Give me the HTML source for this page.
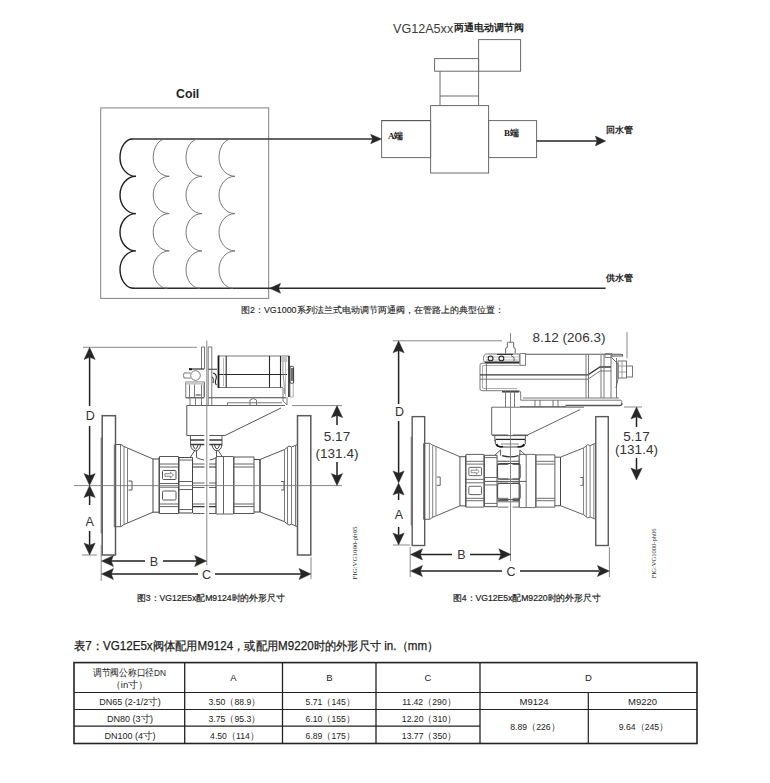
<!DOCTYPE html>
<html><head><meta charset="utf-8">
<style>
html,body{margin:0;padding:0;background:#fff;}
body{width:770px;height:783px;position:relative;overflow:hidden;font-family:"Liberation Sans",sans-serif;color:#222;}
.t{position:absolute;white-space:nowrap;line-height:1;}
.serif{font-family:"Liberation Serif",serif;}
svg{position:absolute;left:0;top:0;}
</style></head><body>
<svg width="770" height="783" viewBox="0 0 770 783">

 <!-- ===== TOP DIAGRAM ===== -->
 <rect x="100.7" y="107.9" width="168" height="190.5" fill="none" stroke="#808080" stroke-width="1"/>
 <g fill="none">
  <path d="M132,139 H376" stroke="#303030" stroke-width="1.3"/>
  <path d="M133.5,288.3 H605.6" stroke="#2e2e2e" stroke-width="1.4"/>
<path d="M132.50,139.00 C125.60,139.00 120.00,147.35 120.00,157.65 C120.00,167.95 127.16,176.30 136.00,176.30 C127.16,176.30 120.00,184.65 120.00,194.95 C120.00,205.25 127.16,213.60 136.00,213.60 C127.16,213.60 120.00,221.95 120.00,232.25 C120.00,242.55 127.16,250.90 136.00,250.90 C127.16,250.90 120.00,259.27 120.00,269.60 C120.00,279.93 126.27,288.30 134.00,288.30" stroke="#1e1e1e" stroke-width="1.4"/>
<path d="M165.70,139.00 C158.80,139.00 153.20,147.35 153.20,157.65 C153.20,167.95 160.36,176.30 169.20,176.30 C160.36,176.30 153.20,184.65 153.20,194.95 C153.20,205.25 160.36,213.60 169.20,213.60 C160.36,213.60 153.20,221.95 153.20,232.25 C153.20,242.55 160.36,250.90 169.20,250.90 C160.36,250.90 153.20,259.27 153.20,269.60 C153.20,279.93 159.47,288.30 167.20,288.30" stroke="#707070" stroke-width="0.95"/>
<path d="M198.50,139.00 C191.60,139.00 186.00,147.35 186.00,157.65 C186.00,167.95 193.16,176.30 202.00,176.30 C193.16,176.30 186.00,184.65 186.00,194.95 C186.00,205.25 193.16,213.60 202.00,213.60 C193.16,213.60 186.00,221.95 186.00,232.25 C186.00,242.55 193.16,250.90 202.00,250.90 C193.16,250.90 186.00,259.27 186.00,269.60 C186.00,279.93 192.27,288.30 200.00,288.30" stroke="#707070" stroke-width="0.95"/>
<path d="M231.50,139.00 C224.60,139.00 219.00,147.35 219.00,157.65 C219.00,167.95 226.16,176.30 235.00,176.30 C226.16,176.30 219.00,184.65 219.00,194.95 C219.00,205.25 226.16,213.60 235.00,213.60 C226.16,213.60 219.00,221.95 219.00,232.25 C219.00,242.55 226.16,250.90 235.00,250.90 C226.16,250.90 219.00,259.27 219.00,269.60 C219.00,279.93 225.27,288.30 233.00,288.30" stroke="#707070" stroke-width="0.95"/>
 </g>
 <g fill="none" stroke="#6a6a6a" stroke-width="1">
  <rect x="478.6" y="39.6" width="42" height="31.6"/>
  <rect x="434.6" y="58.6" width="44" height="12.6"/>
  <path d="M440,71.2 V105.6 M478.6,71.2 V105.6 M440,96 H478.6"/>
  <rect x="430.6" y="105.6" width="58" height="67.4"/>
  <rect x="381.6" y="120.6" width="49" height="37"/>
  <rect x="488.6" y="120.6" width="48" height="37"/>
 </g>
 <path d="M381.6,120.6 H430.6" stroke="#555" stroke-width="1"/>
 <path d="M536.6,141 H597" stroke="#252525" stroke-width="1.5"/>
 <path d="M605.8,141.0 L595.3,136.1 L597.1,141.0 L595.3,145.9 Z" fill="#262626" stroke="#262626" stroke-width="0.4" stroke-linejoin="miter"/>
 <path d="M381.6,139.0 L370.6,134.2 L372.6,139.0 L370.6,143.8 Z" fill="#262626" stroke="#262626" stroke-width="0.4" stroke-linejoin="miter"/>
 <path d="M269.6,288.3 L280.6,283.3 L278.6,288.3 L280.6,293.3 Z" fill="#262626" stroke="#262626" stroke-width="0.4" stroke-linejoin="miter"/>

 <!-- ===== VALVES ===== -->
 <g id="body" fill="none" stroke="#626262" stroke-width="1">
  <!-- left flange -->
  <rect x="102.2" y="415.7" width="13.3" height="139.3" stroke-width="1.5" stroke="#5a5a5a"/>
  <path d="M101.2,437.5 V533.5 M114.3,444.5 V527" />
  <!-- left hub / cone -->
  <path d="M115.5,444.5 H121 L123,446 L127.5,448 L153,459 M115.5,526.7 H121 L123,525 L127.5,523 L153,512.2" stroke="#555"/>
  <path d="M120.5,445 V526.3 M124,447 V524.4 M127.5,448 V523" stroke="#7a7a7a"/>
  <path d="M128.5,481 H132 V490 H128.5" stroke="#555"/>
  <!-- collar -->
  <path d="M153,459 V512.2 M159,457.5 V513.5 M153,459 H159 M153,512.2 H159" stroke="#444"/>
  <!-- left nut -->
  <path d="M159.5,456.5 H178.5 V513.5 H159.5 Z" stroke="#555"/>
  <path d="M159.5,464 H178.5 M159.5,467 H178.5 M159.5,483.5 H178.5 M159.5,487.2 H178.5 M159.5,504 H178.5 M159.5,506.6 H178.5"/>
  <rect x="162.5" y="470.5" width="13.5" height="9" rx="1" stroke="#555"/>
  <path d="M165,473.7 H170.5 V472.2 L173.5,475 L170.5,477.8 V476.3 H165 Z" stroke="#555" stroke-width="0.7"/>
  <rect x="162.5" y="491" width="13.5" height="9" rx="1.2" stroke="#555"/>
  <!-- segment 2 -->
  <path d="M179,457.5 V513 M192.5,457.5 V513 M179,457.5 H192.5 M179,513 H192.5" stroke="#444"/>
  <path d="M179,460 H192.5 M179,481.5 H192.5 M179,489.5 H192.5 M179,509.5 H192.5"/>
  <!-- segment 3 (left of center) -->
  <path d="M193,464 H204.5 M193,483 H204.5 M193,487.5 H204.5 M193,504 H204.5"/>
  <path d="M193,467 H204.5 M193,506.6 H204.5" stroke="#333" stroke-width="1.2"/>
  <path d="M193,513.5 H204.5"/>
  <!-- right of center -->
  <path d="M209,464 H216 M209,483 H216 M209,487.5 H216 M209,504 H216 M209,513.5 H216"/>
  <path d="M209,467 H216 M209,506.6 H216" stroke="#333" stroke-width="1.2"/>
  <path d="M216,457.5 V513.5" stroke="#333" stroke-width="1.1"/>
  <path d="M223.5,456.5 V514 M233.5,456.5 V514 M216,456.5 H233.5 M216,514 H233.5"/>
  <!-- right nut -->
  <path d="M234,457 H254 V513.5 H234 Z" stroke="#555"/>
  <path d="M234,464 H254 M234,467 H254 M234,504 H254 M234,506.6 H254"/>
  <!-- right collar -->
  <path d="M254,459.5 H260 V512 H254 M260,459.5 V512" stroke="#444"/>
  <!-- right cone + hub -->
  <path d="M260,459.5 L284.5,449.5 L289,446 L291.5,447 L297.5,444.5 M260,512 L284.5,521.7 L289,525.2 L291.5,524.2 L297.5,526.7" stroke="#555"/>
  <path d="M284.5,449.5 V521.7 M287.5,447 V524.4 M291.5,447 V524.2 M295.5,445 V526.3" stroke="#7a7a7a"/>
  <path d="M281,481.5 H284 V490 H281"/>
  <!-- right flange -->
  <rect x="297.5" y="415.7" width="13.3" height="139.3" stroke-width="1.5" stroke="#5a5a5a"/>
  <!-- yoke -->
  <path d="M186.8,405.5 V435.5 H204.3 M209.3,435.5 H225 L281,408" stroke="#555"/>
  <path d="M186.8,405.5 H285"/>
 </g>

 <use href="#body" transform="translate(510.5,481.3) scale(0.94,0.925) translate(-206.8,-485.6)"/>
 <g id="fig3">
  <!-- actuator M9124 -->
  <g fill="none" stroke="#6a6a6a" stroke-width="0.9">
   <path d="M218.5,356 H289.5 M218.5,387.5 H283"/>
   <path d="M218.5,374.5 H287" stroke="#2a2a2a" stroke-width="1.2"/>
   <path d="M218.5,355.5 V388" stroke="#1a1a1a" stroke-width="1.8"/>
   <path d="M226.2,356 V387.5 M269.5,356 V387.5 M280.5,356 V387.5" stroke="#2a2a2a" stroke-width="1.1"/>
   <path d="M289,356 V397" stroke="#1a1a1a" stroke-width="1.6"/>
   <path d="M223.5,358 V386 M285.5,362 V396" stroke="#aaa" stroke-width="0.8"/>
   <rect x="290" y="366.3" width="3.6" height="17" rx="1.2" stroke="#333" stroke-width="1"/>
   <path d="M292,368 V381" stroke="#111" stroke-width="1.2"/>
   <path d="M290.2,383 V397 H293.2 V383" stroke="#999" stroke-width="0.8"/>
   <rect x="281.2" y="356.5" width="6" height="5.5" fill="#c4c4c4" stroke="none"/>
   <path d="M283,362 Q282.5,372 283.5,378 Q284.5,386 284.5,394" stroke="#888" stroke-width="0.9"/>
   <!-- plate -->
   <path d="M186,397.8 H204 M208.5,397.8 H286" stroke="#444" stroke-width="1.1"/>
   <path d="M227.5,405.5 V402.8 H282" />
   <path d="M250,405 V400 Q253.2,397 256.5,400 V405"/>
   <path d="M283,388 V401 L287,405 V397"/>
   <!-- left rods -->
   <path d="M201.5,347 V369 M204.5,347 V369 M201.5,347 H204.5"/>
   <path d="M208.2,347 V405 M211.8,347 V405 M208.2,347 H211.8"/>
   <path d="M201.5,382 V405 M204.5,382 V397"/>
   <!-- left knob -->
   <path d="M189,369 H204" stroke="#333" stroke-width="1.2"/>
   <circle cx="195.5" cy="375.5" r="4.8"/>
   <path d="M190.7,373 H184 Q183,375.5 184,378 H190.7"/>
   <rect x="185.8" y="382" width="18.2" height="15.8"/>
   <path d="M189.5,382 V397.8 M194.5,382 V397.8 M186,382.5 H204" />
   <path d="M190,397.8 V405.5 M195.5,397.8 V405.5"/>
   <!-- clip -->
   <path d="M208.4,369.3 H217" stroke="#555" stroke-width="1.2"/>
   <path d="M213,373 Q217.5,374.5 216,379 Q214.5,383 216.5,385 M212.5,377 Q214,379 213,383" stroke="#222" stroke-width="1.1"/>
   <rect x="186" y="382" width="18" height="2.6" fill="#c8c8c8" stroke="none"/>
   <path d="M195.7,395 H200.7" stroke="#333" stroke-width="1"/>
   <path d="M189,369.3 H192" stroke="#111" stroke-width="1.8"/>
  </g>
 </g>
 <g id="pack3" fill="none" stroke="#626262" stroke-width="1">
  <!-- bonnet / packing -->
  <path d="M190.5,435.5 V445 M222,435.5 V445" />
  <path d="M190.5,440 H204.3 M209.3,440 H222 M190.5,444.4 H204.3 M209.3,444.4 H222" stroke="#3a3a3a" stroke-width="1.5"/>
  <path d="M190.5,445 Q191.5,450.5 195.5,450.8 Q199.5,450.5 200.5,445 M193,445 Q194,449 195.5,449 Q197,449 198,445" stroke="#444" stroke-width="1"/>
  <path d="M212,445 Q213,450.5 217,450.8 Q221,450.5 222,445 M214.5,445 Q215.5,449 217,449 Q218.5,449 219.5,445" stroke="#444" stroke-width="1"/>
  <path d="M194.5,451 L190.5,457 M196.5,451 V457.5 M196.5,457.5 Q200,459.5 204,460 M218.5,451 L222.5,457 M216.5,451 V457.5 M216.5,457.5 Q213,459.5 209.5,460" stroke="#555"/>
 </g>
 <g id="fig4">
  <g fill="none" stroke="#6a6a6a" stroke-width="0.9">
   <!-- top stem -->
   <path d="M505.6,353.5 V349 Q505.6,347.5 507.3,347.5 V343 Q507.3,342.2 508.3,342.2 H512.7 Q513.7,342.2 513.7,343 V347.5 Q515.2,347.5 515.2,349 V353.5" stroke="#555"/>
   <!-- top rail -->
   <path d="M486.5,354 H519.3 V363 H486.5 Q483.5,363 483.5,358.5 Q483.5,354 486.5,354 Z"/>
   <path d="M485,362.3 H519" stroke="#1e1e1e" stroke-width="1.4"/>
   <path d="M497,354.4 H513" stroke="#333" stroke-width="1.1"/>
   <path d="M486,357 H518 M486,360 H518" stroke="#999" stroke-width="0.7"/>
   <circle cx="490.6" cy="358.4" r="2.4" stroke="#222" stroke-width="1.1"/>
   <circle cx="501.4" cy="358.4" r="2.4" stroke="#222" stroke-width="1.1"/>
   <path d="M511,355.5 Q515,357 514,361" stroke="#444"/>
   <rect x="520" y="353.6" width="5.6" height="11.7"/>
   <!-- main body -->
   <path d="M525.6,354.3 H621 Q623,354.3 622.5,356 H611" stroke="#555" stroke-width="1.1"/>
   <path d="M480,365 Q480,363.2 482,363.2 H519.5 M480,365 V389 Q480,390.7 482,390.7 H518.5 Q520.7,390.7 520.7,393 V400.2 H527"/>
   <path d="M482.5,365.5 V388.5 M482.5,365.5 H519.5 M482.5,388.5 H517" stroke="#999" stroke-width="0.8"/>
   <path d="M502,391.8 H519" stroke="#333" stroke-width="1.4"/>
   <path d="M486.4,363.5 V390.5"/>
   <path d="M480,374.9 H588 L600,367 H611" stroke="#3a3a3a" stroke-width="1.3"/>
   <path d="M480,379.2 H588 L600,371 H611"/>
   <path d="M586,355 V398 M588.5,355 V398 M601,355 V398 M604,355 V398 M611,355 V398 M616.5,358 V398"/>
   <path d="M523,398 H619 M527,400.2 H621 Q623,401 621,403"/>
   <path d="M520,406.5 H566"/>
   <path d="M565.5,405.5 H620 Q622,405.5 622,403" stroke="#555" stroke-width="1.3"/>
   <path d="M535,400 V406.5 M540,400 V406.5 M553,400 V406.5 M558,400 V406.5"/>
   <!-- right end -->
   <path d="M611,357 L618,364 V379 L616,388" stroke="#555"/>
   <rect x="618" y="361" width="8.5" height="17" stroke="#666"/>
   <path d="M618,366 H626.5 M618,372 H626.5 M622,361 V378" stroke="#888" stroke-width="0.8"/>
   <rect x="626.5" y="366" width="6" height="11" stroke="#666"/>
   <path d="M605,353.5 H612 V357.5 H605 Z" stroke="#777"/>
   <!-- stems below -->
   <path d="M505.5,391 V407 M514.5,391 V407"/>
  </g>
 </g>
 <g id="pack4" fill="none" stroke="#626262" stroke-width="1">
  <path d="M492.3,435.6 H528" stroke="#555"/>
  <path d="M494.8,435.6 V441 M525.4,435.6 V441"/>
  <path d="M495.5,439.4 H525" stroke="#2a2a2a" stroke-width="1.3"/>
  <path d="M495.3,440 V443.5 Q496,447 500,447 H521 Q525,447 525.3,443.5 V440" stroke="#444"/>
  <path d="M496.5,444 Q498,447.5 503,446.5 M524,444 Q522.5,447.5 517.5,446.5" stroke="#1a1a1a" stroke-width="1.6"/>
  <path d="M501,444 H519" stroke="#aaa" stroke-width="1.4"/>
  <path d="M500.6,449.9 L495,455.1 M500.6,449.9 V455.5 M519.9,449.9 L525.4,455.1 M519.9,449.9 V455.5" stroke="#555"/>
  <path d="M502,455.6 Q510.5,458 518.4,455.6" stroke="#333" stroke-width="1.3"/>
  <rect x="497.6" y="463.5" width="22.6" height="15.7" rx="2" stroke="#444"/>
  <rect x="497.6" y="483.4" width="22.6" height="16.2" rx="2" stroke="#444"/>
  <path d="M497.6,461.3 H520.2 M497.6,501.8 H520.2" stroke="#777"/>
  <path d="M484.5,481.4 H526" stroke="#555"/>
 </g>
<g fill="none" stroke="#7a7a7a" stroke-width="0.9">
   <path d="M83,347.3 H197"/>
   <path d="M206.8,340.5 V565"/>
   <path d="M74,485.6 H342"/>
   <path d="M82,555 H97"/>
   <path d="M101.2,545 V581 M311,557 V579"/>
   <path d="M292,405.6 H342"/>
   <path d="M393,340.8 H502"/>
   <path d="M510.5,333 V342.2 M510.5,391 V561"/>
   <path d="M393,545 H410"/>
   <path d="M410.2,547 V577 M609.4,547 V577"/>
   <path d="M624,407 H642"/>
   <path d="M627,332 V358.5"/>
  </g>
 <g fill="none" stroke="#222" stroke-width="1.5">
   <path d="M89.6,356 V406 M89.6,426 V476"/>
   <path d="M89.6,495 V505 M89.6,531 V545"/>
   <path d="M111,561 H145 M163,561 H197"/>
   <path d="M111,574 H198 M215,574 H301"/>
   <path d="M337,415 V425 M337,462 V476"/>
   <path d="M398.6,350 V404 M398.6,421 V473"/>
   <path d="M398.6,493 V500 M398.6,527 V535"/>
   <path d="M420,554.4 H452 M470,554.4 H501"/>
   <path d="M420,571 H502 M520,571 H599"/>
   <path d="M636.5,417 V427 M636.5,458 V470"/>
  </g>
 <path d="M89.6,347.5 L95.2,359.5 L89.6,357.3 L84.0,359.5 Z" fill="#262626" stroke="#262626" stroke-width="0.4" stroke-linejoin="miter"/>
 <path d="M89.6,485.6 L95.2,473.6 L89.6,475.8 L84.0,473.6 Z" fill="#262626" stroke="#262626" stroke-width="0.4" stroke-linejoin="miter"/>
 <path d="M89.6,485.6 L95.2,497.6 L89.6,495.4 L84.0,497.6 Z" fill="#262626" stroke="#262626" stroke-width="0.4" stroke-linejoin="miter"/>
 <path d="M89.6,555.0 L95.2,543.0 L89.6,545.2 L84.0,543.0 Z" fill="#262626" stroke="#262626" stroke-width="0.4" stroke-linejoin="miter"/>
 <path d="M101.5,561.0 L113.5,555.4 L111.3,561.0 L113.5,566.6 Z" fill="#262626" stroke="#262626" stroke-width="0.4" stroke-linejoin="miter"/>
 <path d="M206.6,561.0 L194.6,555.4 L196.8,561.0 L194.6,566.6 Z" fill="#262626" stroke="#262626" stroke-width="0.4" stroke-linejoin="miter"/>
 <path d="M101.5,574.0 L113.5,568.4 L111.3,574.0 L113.5,579.6 Z" fill="#262626" stroke="#262626" stroke-width="0.4" stroke-linejoin="miter"/>
 <path d="M311.0,574.0 L299.0,568.4 L301.2,574.0 L299.0,579.6 Z" fill="#262626" stroke="#262626" stroke-width="0.4" stroke-linejoin="miter"/>
 <path d="M337.0,405.6 L342.6,417.6 L337.0,415.4 L331.4,417.6 Z" fill="#262626" stroke="#262626" stroke-width="0.4" stroke-linejoin="miter"/>
 <path d="M337.0,485.6 L342.6,473.6 L337.0,475.8 L331.4,473.6 Z" fill="#262626" stroke="#262626" stroke-width="0.4" stroke-linejoin="miter"/>
 <path d="M398.6,340.8 L404.2,352.8 L398.6,350.6 L393.0,352.8 Z" fill="#262626" stroke="#262626" stroke-width="0.4" stroke-linejoin="miter"/>
 <path d="M398.6,483.0 L404.2,471.0 L398.6,473.2 L393.0,471.0 Z" fill="#262626" stroke="#262626" stroke-width="0.4" stroke-linejoin="miter"/>
 <path d="M398.6,483.0 L404.2,495.0 L398.6,492.8 L393.0,495.0 Z" fill="#262626" stroke="#262626" stroke-width="0.4" stroke-linejoin="miter"/>
 <path d="M398.6,545.0 L404.2,533.0 L398.6,535.2 L393.0,533.0 Z" fill="#262626" stroke="#262626" stroke-width="0.4" stroke-linejoin="miter"/>
 <path d="M410.5,554.4 L422.5,548.8 L420.3,554.4 L422.5,560.0 Z" fill="#262626" stroke="#262626" stroke-width="0.4" stroke-linejoin="miter"/>
 <path d="M510.8,554.4 L498.8,548.8 L501.0,554.4 L498.8,560.0 Z" fill="#262626" stroke="#262626" stroke-width="0.4" stroke-linejoin="miter"/>
 <path d="M410.5,571.0 L422.5,565.4 L420.3,571.0 L422.5,576.6 Z" fill="#262626" stroke="#262626" stroke-width="0.4" stroke-linejoin="miter"/>
 <path d="M609.4,571.0 L597.4,565.4 L599.6,571.0 L597.4,576.6 Z" fill="#262626" stroke="#262626" stroke-width="0.4" stroke-linejoin="miter"/>
 <path d="M636.5,407.0 L642.1,419.0 L636.5,416.8 L630.9,419.0 Z" fill="#262626" stroke="#262626" stroke-width="0.4" stroke-linejoin="miter"/>
 <path d="M636.5,480.0 L642.1,468.0 L636.5,470.2 L630.9,468.0 Z" fill="#262626" stroke="#262626" stroke-width="0.4" stroke-linejoin="miter"/>
 <g fill="#333" font-family="Liberation Sans, sans-serif" text-anchor="middle">
  <text x="90.3" y="420.4" font-size="12.5">D</text>
  <text x="89.7" y="525.6" font-size="12.5">A</text>
  <text x="154" y="566" font-size="12.5">B</text>
  <text x="206.5" y="578.5" font-size="12.5">C</text>
  <text x="337" y="441" font-size="13.5">5.17</text>
  <text x="337" y="458.3" font-size="13.5">(131.4)</text>
  <text x="399.5" y="416" font-size="12.5">D</text>
  <text x="399" y="518.5" font-size="12.5">A</text>
  <text x="461.3" y="559" font-size="12.5">B</text>
  <text x="511" y="576" font-size="12.5">C</text>
  <text x="636.5" y="440.5" font-size="13.5">5.17</text>
  <text x="636.5" y="454.2" font-size="13.5">(131.4)</text>
  <text x="569" y="342" font-size="13.5">8.12 (206.3)</text>
 </g>
 <g fill="#2a2a2a" font-family="Liberation Serif, serif" font-size="6.5">
  <text transform="translate(357,579.5) rotate(-90)" textLength="53" lengthAdjust="spacingAndGlyphs">FIG:VG1000-ph05</text>
  <text transform="translate(656,578.5) rotate(-90)" textLength="50" lengthAdjust="spacingAndGlyphs">FIG:VG1000-ph06</text>
 </g>

 <!-- ===== TABLE ===== -->
 <g stroke="#222" fill="none">
  <rect x="74" y="662.6" width="623" height="80.9" stroke-width="1.6"/>
  <path d="M74,692.5 H697 M74,709.5 H697 M74,726.2 H480" stroke-width="1.2"/>
  <path d="M184.7,662.6 V743.5 M282.5,662.6 V743.5 M376,662.6 V743.5 M480,662.6 V743.5" stroke-width="1.3"/>
  <path d="M588.3,692.5 V743.5" stroke-width="1.2"/>
 </g>
 <g font-size="9.5" fill="#222" text-anchor="middle" font-family="Liberation Sans, sans-serif">
  <text x="129.5" y="675.6" textLength="73" lengthAdjust="spacingAndGlyphs">调节阀公称口径DN</text>
  <text x="129.5" y="687.8">（in寸）</text>
  <text x="233.5" y="681">A</text>
  <text x="329.3" y="681">B</text>
  <text x="428" y="681">C</text>
  <text x="588.5" y="681">D</text>
  <text x="130.0" y="704.8" textLength="61.7" lengthAdjust="spacingAndGlyphs">DN65 (2-1/2寸)</text>
  <text x="130.0" y="721.7" textLength="46.1" lengthAdjust="spacingAndGlyphs">DN80 (3寸)</text>
  <text x="130.0" y="738.7" textLength="51.1" lengthAdjust="spacingAndGlyphs">DN100 (4寸)</text>
  <text x="234.5" y="704.8" textLength="51.9" lengthAdjust="spacingAndGlyphs">3.50（88.9）</text>
  <text x="234.5" y="721.7" textLength="51.9" lengthAdjust="spacingAndGlyphs">3.75（95.3）</text>
  <text x="234.5" y="738.7" textLength="48.8" lengthAdjust="spacingAndGlyphs">4.50（114）</text>
  <text x="330.3" y="704.8" textLength="49.4" lengthAdjust="spacingAndGlyphs">5.71（145）</text>
  <text x="330.3" y="721.7" textLength="49.4" lengthAdjust="spacingAndGlyphs">6.10（155）</text>
  <text x="330.3" y="738.7" textLength="49.4" lengthAdjust="spacingAndGlyphs">6.89（175）</text>
  <text x="429.0" y="704.8" textLength="53.6" lengthAdjust="spacingAndGlyphs">11.42（290）</text>
  <text x="429.0" y="721.7" textLength="54.3" lengthAdjust="spacingAndGlyphs">12.20（310）</text>
  <text x="429.0" y="738.7" textLength="54.3" lengthAdjust="spacingAndGlyphs">13.77（350）</text>
  <text x="534" y="704.8">M9124</text>
  <text x="642.5" y="704.8">M9220</text>
  <text x="535.0" y="730" textLength="49.4" lengthAdjust="spacingAndGlyphs">8.89（226）</text>
  <text x="643.5" y="730" textLength="49.4" lengthAdjust="spacingAndGlyphs">9.64（245）</text>
 </g>
</svg>

<div class="t" style="left:393px;top:23.2px;font-size:12.6px;color:#3a3a3a;">VG12A5xx</div>
<div class="t serif" style="left:454px;top:23.5px;font-size:9.5px;font-weight:bold;">两通电动调节阀</div>
<div class="t" style="left:176px;top:88px;font-size:12.3px;font-weight:bold;">Coil</div>
<div class="t serif" style="left:388px;top:132px;font-size:9px;font-weight:bold;">A端</div>
<div class="t serif" style="left:504px;top:129px;font-size:9px;font-weight:bold;">B端</div>
<div class="t serif" style="left:606px;top:126px;font-size:9.4px;font-weight:bold;">回水管</div>
<div class="t serif" style="left:606px;top:274px;font-size:9.4px;font-weight:bold;">供水管</div>
<div class="t" style="left:241px;top:306px;font-size:8.9px;-webkit-text-stroke:0.12px #222;">图2：VG1000系列法兰式电动调节两通阀，在管路上的典型位置：</div>
<div class="t" style="left:137px;top:594.3px;font-size:8.8px;transform:scaleX(0.98);transform-origin:0 0;-webkit-text-stroke:0.2px #222;">图3：VG12E5x配M9124时的外形尺寸</div>
<div class="t" style="left:453px;top:594.3px;font-size:8.8px;transform:scaleX(0.98);transform-origin:0 0;-webkit-text-stroke:0.2px #222;">图4：VG12E5x配M9220时的外形尺寸</div>
<div class="t" style="left:74px;top:639.5px;font-size:12.4px;transform:scaleX(0.937);transform-origin:0 0;-webkit-text-stroke:0.25px #222;">表7：VG12E5x阀体配用M9124，或配用M9220时的外形尺寸 in.（mm）</div>

</body></html>
